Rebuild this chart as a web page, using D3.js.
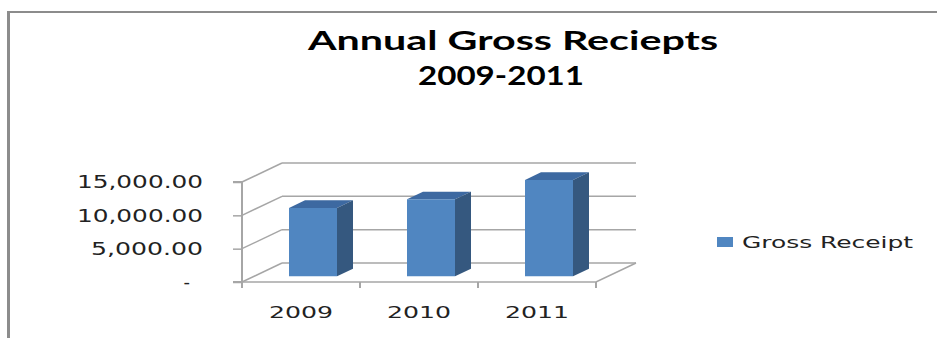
<!DOCTYPE html>
<html>
<head>
<meta charset="utf-8">
<script src="https://cdn.jsdelivr.net/npm/d3@7"></script>
<style>
	body { margin: 0; background: #fff; }
	svg { display: block; }
</style>
</head>
<body>
<div id="chart"></div>
<script>
var years = ["2009", "2010", "2011"];
var receipts = [10250, 11550, 14450];
var yTicks = [0, 5000, 10000, 15000];
var seriesName = "Gross Receipt";
var titleLines = ["Annual Gross Reciepts", "2009-2011"];

var width = 937, height = 338;
var DX = 40, DY = 19;          // depth of the 3d box
var barFront = 0.3, barBack = 0.7;
var gridColor = "#a6a6a6";

var svg = d3.select("#chart").append("svg")
	.attr("width", width)
	.attr("height", height);

// stretch a text to a given width
function fit(sel, w) {
	sel.attr("textLength", w).attr("lengthAdjust", "spacingAndGlyphs");
}

// chart frame
svg.append("line")
	.attr("x1", 8.5).attr("y1", 11).attr("x2", 8.5).attr("y2", height)
	.attr("stroke", "#8c8c8c").attr("stroke-width", 3);
svg.append("line")
	.attr("x1", 7).attr("y1", 12).attr("x2", width).attr("y2", 12)
	.attr("stroke", "#8c8c8c").attr("stroke-width", 2);

// title
var titleWidths = [410, 166];
var titleBase = [50, 85];
titleLines.forEach(function(t, i) {
	svg.append("text")
		.attr("x", 513 - (i ? 12 : 0))
		.attr("y", titleBase[i])
		.attr("text-anchor", "middle")
		.style("font-family", "Lato, 'Open Sans', sans-serif")
		.style("font-weight", "bold")
		.style("font-size", "26px")
		.attr("fill", "#000")
		.text(t)
		.call(fit, titleWidths[i]);
});

var x = d3.scaleBand().domain(years).range([242, 596]).paddingInner(0).paddingOuter(0);
var y = d3.scaleLinear().domain([0, 15000]).range([282, 182]);

var g = svg.append("g");

// back wall gridlines + side wall lines
var grid = g.selectAll(".grid").data(yTicks).enter().append("g").classed("grid", true);
grid.append("line")
	.attr("x1", x.range()[0] + DX).attr("x2", x.range()[1] + DX)
	.attr("y1", function(d) { return y(d) - DY; })
	.attr("y2", function(d) { return y(d) - DY; })
	.attr("stroke", gridColor).attr("stroke-width", 1.5);
grid.append("line")
	.attr("x1", x.range()[0]).attr("x2", x.range()[0] + DX)
	.attr("y1", function(d) { return y(d); })
	.attr("y2", function(d) { return y(d) - DY; })
	.attr("stroke", gridColor).attr("stroke-width", 1.5);

// floor
g.append("path")
	.attr("d", "M" + x.range()[0] + "," + y(0) + "L" + x.range()[1] + "," + y(0) +
		"L" + (x.range()[1] + DX) + "," + (y(0) - DY))
	.attr("fill", "none").attr("stroke", gridColor).attr("stroke-width", 1.5);

// y axis
var yAxis = d3.axisLeft(y)
	.tickValues(yTicks)
	.tickSize(9)
	.tickPadding(30)
	.tickFormat(function(d) { return d === 0 ? "-" : d3.format(",.2f")(d); });
var ya = g.append("g").attr("transform", "translate(" + x.range()[0] + ",0)").call(yAxis);
ya.select(".domain").attr("stroke", gridColor).attr("stroke-width", 2)
	.attr("d", "M-9," + y(0) + "H0V" + y(15000) + "H-9");
ya.selectAll(".tick line").attr("stroke", gridColor).attr("stroke-width", 1.5);
ya.selectAll(".tick text")
	.style("font-family", "'DejaVu Sans', sans-serif")
	.style("font-size", "18px")
	.attr("fill", "#222")
	.each(function(d) {
		var t = d3.select(this);
		if (d === 0) {
			t.attr("x", -52);
		} else {
			fit(t, d >= 10000 ? 126 : 112);
		}
	});

// x axis ticks on band boundaries
var bounds = years.map(function(d) { return x(d); }).concat([x.range()[1]]);
g.selectAll(".xtick").data(bounds).enter().append("line")
	.attr("x1", function(d) { return d; }).attr("x2", function(d) { return d; })
	.attr("y1", y(0)).attr("y2", y(0) + 6)
	.attr("stroke", gridColor).attr("stroke-width", 2);

g.selectAll(".xlabel").data(years).enter().append("text")
	.attr("x", function(d) { return x(d) + x.bandwidth() / 2; })
	.attr("y", 318)
	.attr("text-anchor", "middle")
	.style("font-family", "'DejaVu Sans', sans-serif")
	.style("font-size", "16px")
	.attr("fill", "#222")
	.text(function(d) { return d; })
	.call(fit, 64);

// bars
var barW = 48;
var bars = g.selectAll(".bar").data(receipts).enter().append("g").classed("bar", true);
function corner(i, v, depth, right) {
	var x0 = x(years[i]) + (x.bandwidth() - barW) / 2 + (right ? barW : 0);
	return [x0 + depth * DX, y(v) - depth * DY];
}
function poly(pts) { return "M" + pts.join("L") + "Z"; }

bars.append("path")  // top
	.attr("d", function(d, i) {
		return poly([corner(i, d, barFront, false), corner(i, d, barFront, true),
			corner(i, d, barBack, true), corner(i, d, barBack, false)]);
	})
	.attr("fill", "#3d69a1");
bars.append("path")  // side
	.attr("d", function(d, i) {
		return poly([corner(i, d, barFront, true), corner(i, 0, barFront, true),
			corner(i, 0, barBack, true), corner(i, d, barBack, true)]);
	})
	.attr("fill", "#35587f");
bars.append("path")  // front
	.attr("d", function(d, i) {
		return poly([corner(i, d, barFront, false), corner(i, d, barFront, true),
			corner(i, 0, barFront, true), corner(i, 0, barFront, false)]);
	})
	.attr("fill", "#5086c1");

// legend
var legend = svg.append("g").attr("transform", "translate(717,237)");
legend.append("rect").attr("width", 16).attr("height", 10).attr("fill", "#5086c1");
legend.append("text")
	.attr("x", 25).attr("y", 11)
	.style("font-family", "'DejaVu Sans', sans-serif")
	.style("font-size", "16px")
	.attr("fill", "#222")
	.text(seriesName)
	.call(fit, 171);
</script>
</body>
</html>
